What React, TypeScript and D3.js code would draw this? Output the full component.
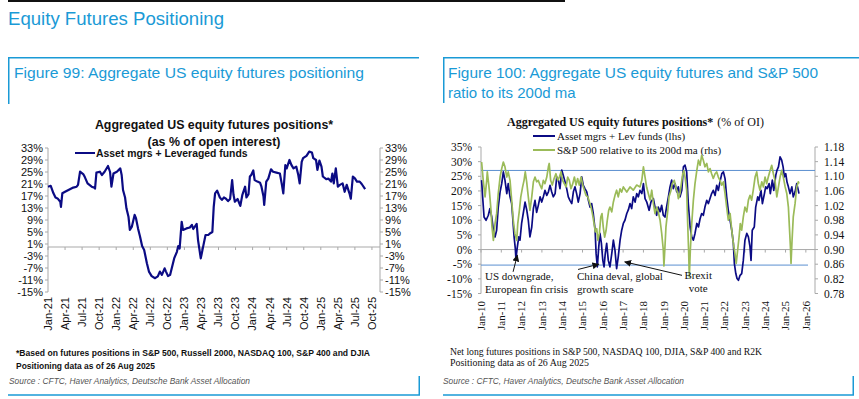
import React from "react";
import * as d3 from "d3";

// ---- data: Figure 99 (decimal year, % of open interest) ----
const aggPositions: [number, number][] = [
  [2021.0, 20.1], [2021.04, 20.4], [2021.08, 17.9], [2021.11, 16.5], [2021.14, 16.2], [2021.18, 15.1],
  [2021.19, 13.4], [2021.21, 17.9], [2021.25, 18.4], [2021.3, 19.0], [2021.37, 19.8], [2021.42, 20.1],
  [2021.44, 20.7], [2021.47, 25.1], [2021.52, 24.2], [2021.54, 23.3], [2021.58, 21.2], [2021.64, 20.1],
  [2021.68, 19.8], [2021.69, 19.5], [2021.71, 24.8], [2021.76, 25.1], [2021.79, 24.0], [2021.83, 25.1],
  [2021.88, 27.0], [2021.91, 25.0], [2021.93, 20.1], [2021.96, 24.5], [2022.01, 25.1], [2022.06, 26.2],
  [2022.08, 24.0], [2022.1, 19.0], [2022.13, 16.5], [2022.15, 12.9], [2022.18, 10.1], [2022.2, 5.7],
  [2022.23, 6.8], [2022.27, 10.7], [2022.29, 9.6], [2022.32, 6.2], [2022.35, 3.4], [2022.38, 0.3],
  [2022.41, -1.0], [2022.45, -5.4], [2022.48, -8.2], [2022.52, -9.7], [2022.57, -10.4], [2022.61, -9.8],
  [2022.64, -8.2], [2022.67, -9.3], [2022.71, -7.1], [2022.73, -8.2], [2022.76, -9.7], [2022.79, -9.3],
  [2022.82, -6.6], [2022.85, -3.8], [2022.89, -1.6], [2022.91, 0.3], [2022.93, -0.5], [2022.96, 8.4],
  [2022.98, 5.7], [2023.03, 6.2], [2023.08, 6.5], [2023.11, 7.4], [2023.13, 6.0], [2023.18, 7.7],
  [2023.2, 2.3], [2023.24, -3.8], [2023.28, 0.7], [2023.31, 4.0], [2023.35, 4.0], [2023.38, 4.6],
  [2023.41, 5.0], [2023.43, 13.4], [2023.45, 17.9], [2023.48, 18.8], [2023.52, 16.5], [2023.55, 15.7],
  [2023.58, 16.5], [2023.61, 16.1], [2023.64, 15.3], [2023.67, 16.0], [2023.7, 22.3], [2023.72, 17.4],
  [2023.74, 15.1], [2023.78, 16.0], [2023.82, 13.7], [2023.85, 17.4], [2023.89, 20.1], [2023.91, 16.5],
  [2023.94, 17.6], [2023.96, 23.5], [2023.98, 24.0], [2024.01, 25.5], [2024.03, 22.3], [2024.07, 21.8],
  [2024.11, 21.4], [2024.13, 20.1], [2024.16, 16.8], [2024.17, 14.0], [2024.2, 21.8], [2024.23, 22.8],
  [2024.27, 25.9], [2024.3, 25.1], [2024.35, 24.8], [2024.4, 24.5], [2024.43, 20.7], [2024.45, 17.9],
  [2024.48, 27.3], [2024.5, 26.2], [2024.54, 29.0], [2024.57, 27.3], [2024.6, 26.2], [2024.64, 26.8],
  [2024.67, 24.0], [2024.69, 21.2], [2024.72, 28.4], [2024.74, 29.6], [2024.79, 30.4], [2024.83, 31.8],
  [2024.87, 31.5], [2024.89, 29.6], [2024.93, 29.0], [2024.95, 25.7], [2024.98, 28.8], [2025.01, 26.8],
  [2025.03, 23.5], [2025.08, 22.6], [2025.11, 22.8], [2025.15, 21.8], [2025.17, 24.5], [2025.19, 21.2],
  [2025.22, 26.2], [2025.25, 20.1], [2025.28, 20.7], [2025.32, 21.2], [2025.35, 18.4], [2025.38, 20.7],
  [2025.42, 17.9], [2025.44, 16.1], [2025.47, 23.5], [2025.5, 22.9], [2025.53, 21.8], [2025.57, 21.8],
  [2025.6, 21.0], [2025.65, 19.3],
];
const fig99Ticks = [33, 29, 25, 21, 17, 13, 9, 5, 1, -3, -7, -11, -15];
const fig99Labels = [
  "Jan-21", "Apr-21", "Jul-21", "Oct-21", "Jan-22", "Apr-22", "Jul-22", "Oct-22", "Jan-23", "Apr-23",
  "Jul-23", "Oct-23", "Jan-24", "Apr-24", "Jul-24", "Oct-24", "Jan-25", "Apr-25", "Jul-25", "Oct-25",
];

// ---- data: Figure 100 ----
// asset mgrs + lev funds, % of OI (lhs)
const levPositions: [number, number][] = [
  [2010.03, 23.7], [2010.08, 18], [2010.15, 11.1], [2010.25, 10], [2010.36, 11.7], [2010.44, 14],
  [2010.53, 11.1], [2010.61, 6.6], [2010.69, 4.3], [2010.77, 6.6], [2010.85, 14.5], [2010.94, 19.7],
  [2011.02, 22.5], [2011.1, 26.5], [2011.18, 23.7], [2011.27, 19.1], [2011.34, 22.5], [2011.43, 18],
  [2011.51, 15.7], [2011.56, 11.1], [2011.63, 4.3], [2011.69, 0.3], [2011.72, -3.1], [2011.79, 0.9],
  [2011.86, 4.3], [2011.92, 3.2], [2012.0, 8.9], [2012.08, 12.3], [2012.17, 16.2], [2012.25, 13.6],
  [2012.33, 10], [2012.41, 4.3], [2012.5, 7.7], [2012.58, 14], [2012.66, 16.8], [2012.74, 12.7],
  [2012.82, 15], [2012.91, 18], [2012.99, 16.2], [2013.07, 18], [2013.15, 20.2], [2013.24, 18.5],
  [2013.32, 19.7], [2013.4, 21.9], [2013.48, 19.7], [2013.56, 18], [2013.65, 19.1], [2013.73, 24.8],
  [2013.81, 23.7], [2013.89, 20.8], [2013.98, 27.1], [2014.05, 25.4], [2014.14, 23.1], [2014.22, 20.8],
  [2014.3, 18], [2014.38, 16.8], [2014.47, 15.7], [2014.55, 19.7], [2014.63, 21.4], [2014.71, 19.1],
  [2014.79, 16.2], [2014.88, 19.1], [2014.96, 24.8], [2015.04, 21.9], [2015.12, 20.8], [2015.21, 19.7],
  [2015.29, 16.8], [2015.37, 14.5], [2015.45, 15.7], [2015.53, 12.3], [2015.62, 6.6], [2015.67, -1.4],
  [2015.73, -5.9], [2015.8, 0.9], [2015.86, 5.5], [2015.93, 2.1], [2016.0, -3.7], [2016.06, -5.9],
  [2016.12, -1.4], [2016.19, 2.1], [2016.27, -3.7], [2016.35, -5.9], [2016.44, -1.4], [2016.52, 3.2],
  [2016.6, -0.3], [2016.68, -6.5], [2016.76, -2.5], [2016.85, 3.2], [2016.93, 6.6], [2017.01, 8.9],
  [2017.09, 10], [2017.18, 12.3], [2017.26, 13.6], [2017.34, 15.7], [2017.42, 14], [2017.5, 18],
  [2017.59, 16.2], [2017.67, 19.1], [2017.75, 18], [2017.83, 20.2], [2017.92, 19.1], [2018.0, 22.5],
  [2018.08, 17.4], [2018.16, 16.3], [2018.28, 13.4], [2018.37, 16.2], [2018.49, 17.4], [2018.57, 14.5],
  [2018.65, 11.7], [2018.73, 14.5], [2018.82, 12.9], [2018.9, 15.1], [2018.98, 11.7], [2019.06, 11.1],
  [2019.14, 14.5], [2019.23, 18], [2019.31, 21.4], [2019.39, 23.7], [2019.47, 20.8], [2019.56, 22.5],
  [2019.64, 19.7], [2019.72, 21.4], [2019.8, 18], [2019.89, 20.2], [2019.97, 28.2], [2020.05, 28.8],
  [2020.13, 26.5], [2020.21, 15.7], [2020.3, 7.7], [2020.38, 4.3], [2020.46, 3.2], [2020.54, 5.5],
  [2020.63, 8.9], [2020.71, 7.7], [2020.79, 10.5], [2020.87, 12.3], [2020.95, 11.7], [2021.03, 14.5],
  [2021.12, 16.8], [2021.2, 15.7], [2021.28, 17.4], [2021.36, 19.1], [2021.44, 20.2], [2021.53, 18.5],
  [2021.61, 21.9], [2021.69, 20.2], [2021.77, 23.1], [2021.86, 25.9], [2021.94, 26.5], [2022.02, 24.2],
  [2022.1, 18], [2022.18, 13.4], [2022.27, 10], [2022.35, 6.6], [2022.43, 2.1], [2022.48, -4.8],
  [2022.55, -8.2], [2022.61, -9.9], [2022.68, -10.5], [2022.76, -8.8], [2022.84, -8.2], [2022.92, -3.7],
  [2023.0, 3.2], [2023.09, 5.5], [2023.17, 4.3], [2023.25, 0.9], [2023.3, -3.7], [2023.36, 6.6],
  [2023.46, 7.7], [2023.53, 14.5], [2023.63, 18], [2023.69, 16.8], [2023.79, 20.2], [2023.86, 15.7],
  [2023.96, 19.1], [2024.02, 21.4], [2024.09, 20.8], [2024.19, 22.5], [2024.25, 19.1], [2024.35, 23.7],
  [2024.42, 20.2], [2024.52, 25.4], [2024.58, 27.1], [2024.65, 28.2], [2024.73, 31.6], [2024.81, 30.5],
  [2024.88, 28.2], [2024.94, 24.8], [2025.01, 25.9], [2025.07, 23.1], [2025.14, 21.4], [2025.22, 19.1],
  [2025.31, 21.4], [2025.38, 18], [2025.47, 19.7], [2025.55, 22.5], [2025.63, 20.2], [2025.66, 19.1],
];
// S&P 500 relative to 200d ma (rhs)
const spxRatio: [number, number][] = [
  [2010.03, 1.139], [2010.11, 1.089], [2010.2, 1.044], [2010.28, 1.089], [2010.31, 1.112], [2010.41, 1.062],
  [2010.48, 1.016], [2010.54, 0.962], [2010.61, 0.925], [2010.69, 0.971], [2010.77, 0.998], [2010.85, 1.053],
  [2010.94, 1.098], [2011.02, 1.121], [2011.1, 1.139], [2011.18, 1.126], [2011.27, 1.098], [2011.34, 1.112],
  [2011.43, 1.089], [2011.51, 1.035], [2011.59, 0.98], [2011.67, 0.944], [2011.76, 0.925], [2011.81, 0.971],
  [2011.89, 1.007], [2011.96, 1.044], [2012.05, 1.071], [2012.12, 1.089], [2012.18, 1.112], [2012.25, 1.085],
  [2012.33, 1.044], [2012.41, 1.007], [2012.5, 1.044], [2012.58, 1.085], [2012.66, 1.098], [2012.74, 1.085],
  [2012.82, 1.089], [2012.91, 1.076], [2012.99, 1.066], [2013.07, 1.089], [2013.15, 1.08], [2013.24, 1.098],
  [2013.32, 1.126], [2013.36, 1.135], [2013.43, 1.089], [2013.51, 1.076], [2013.6, 1.094], [2013.69, 1.107],
  [2013.78, 1.089], [2013.86, 1.098], [2013.94, 1.112], [2014.02, 1.089], [2014.1, 1.08], [2014.19, 1.071],
  [2014.27, 1.098], [2014.35, 1.089], [2014.43, 1.066], [2014.52, 1.08], [2014.6, 1.098], [2014.68, 1.076],
  [2014.76, 1.094], [2014.84, 1.076], [2014.93, 1.098], [2015.01, 1.076], [2015.09, 1.062], [2015.17, 1.048],
  [2015.26, 1.044], [2015.34, 1.03], [2015.42, 1.016], [2015.5, 0.994], [2015.57, 0.971], [2015.63, 0.948],
  [2015.7, 0.957], [2015.76, 0.925], [2015.83, 0.944], [2015.9, 0.989], [2015.96, 0.998], [2016.02, 0.962],
  [2016.09, 0.934], [2016.16, 0.952], [2016.22, 0.98], [2016.29, 1.007], [2016.35, 1.016], [2016.44, 1.003],
  [2016.52, 1.03], [2016.6, 1.048], [2016.68, 1.062], [2016.76, 1.044], [2016.85, 1.066], [2016.93, 1.057],
  [2017.01, 1.071], [2017.18, 1.057], [2017.34, 1.071], [2017.5, 1.062], [2017.67, 1.076], [2017.83, 1.071],
  [2017.92, 1.089], [2018.0, 1.126], [2018.08, 1.098], [2018.16, 1.07], [2018.24, 1.053], [2018.33, 1.035],
  [2018.41, 1.062], [2018.49, 1.026], [2018.57, 0.998], [2018.65, 1.016], [2018.73, 1.003], [2018.82, 0.98],
  [2018.9, 0.944], [2018.98, 0.898], [2019.01, 0.855], [2019.06, 0.907], [2019.11, 0.962], [2019.2, 1.007],
  [2019.26, 1.044], [2019.36, 1.062], [2019.42, 1.08], [2019.52, 1.089], [2019.59, 1.071], [2019.67, 1.057],
  [2019.72, 1.039], [2019.8, 1.053], [2019.89, 1.089], [2019.94, 1.107], [2019.99, 1.116], [2020.05, 1.098],
  [2020.13, 1.062], [2020.18, 0.971], [2020.23, 0.889], [2020.26, 0.825], [2020.31, 0.898], [2020.38, 0.971],
  [2020.46, 1.035], [2020.54, 1.08], [2020.63, 1.116], [2020.71, 1.144], [2020.79, 1.13], [2020.87, 1.157],
  [2020.95, 1.144], [2021.03, 1.126], [2021.12, 1.135], [2021.2, 1.112], [2021.28, 1.121], [2021.36, 1.107],
  [2021.44, 1.094], [2021.53, 1.107], [2021.61, 1.112], [2021.69, 1.098], [2021.77, 1.089], [2021.86, 1.076],
  [2021.94, 1.085], [2022.02, 1.053], [2022.1, 1.016], [2022.18, 0.98], [2022.27, 0.998], [2022.35, 0.953],
  [2022.43, 0.916], [2022.51, 0.889], [2022.57, 0.862], [2022.64, 0.898], [2022.71, 0.934], [2022.77, 0.971],
  [2022.84, 0.953], [2022.92, 0.989], [2023.0, 1.016], [2023.09, 1.003], [2023.17, 1.035], [2023.25, 1.048],
  [2023.33, 1.035], [2023.41, 1.062], [2023.5, 1.098], [2023.58, 1.112], [2023.66, 1.08], [2023.74, 1.062],
  [2023.83, 1.085], [2023.91, 1.071], [2023.99, 1.098], [2024.07, 1.08], [2024.15, 1.098], [2024.24, 1.116],
  [2024.32, 1.13], [2024.4, 1.107], [2024.48, 1.089], [2024.57, 1.044], [2024.65, 1.071], [2024.73, 1.098],
  [2024.81, 1.116], [2024.89, 1.098], [2024.98, 1.071], [2025.06, 1.053], [2025.14, 1.016], [2025.19, 0.962],
  [2025.24, 0.907], [2025.27, 0.862], [2025.32, 0.925], [2025.38, 0.989], [2025.47, 1.026], [2025.55, 1.071],
  [2025.63, 1.085], [2025.66, 1.08],
];
const fig100Lhs = [35, 30, 25, 20, 15, 10, 5, 0, -5, -10, -15];
const fig100Rhs = [1.18, 1.14, 1.1, 1.06, 1.02, 0.98, 0.94, 0.9, 0.86, 0.82, 0.78];
const fig100Years = [2010, 2011, 2012, 2013, 2014, 2015, 2016, 2017, 2018, 2019, 2020, 2021, 2022, 2023, 2024, 2025, 2026];
const bandLines = [27, -5.3];

const BLUE = "#1a9ad6";
const NAVY = "#0b0b84";
const GREEN = "#9bbb59";
const AXIS = "#a9a9a9";
const SANS = "'Liberation Sans', Arial, sans-serif";
const SERIF = "'Liberation Serif', 'Times New Roman', serif";

const monthIdx: Record<string, number> = { Jan: 0, Apr: 3, Jul: 6, Oct: 9 };
const labelToYear = (s: string) => 2000 + +s.slice(4) + monthIdx[s.slice(0, 3)] / 12;

function Fig99() {
  const x = d3.scaleLinear().domain([2021, 2025.868]).range([48, 380]);
  const y = d3.scaleLinear().domain([-15, 33]).range([292, 148]);
  const line = d3.line<[number, number]>().x(d => x(d[0])).y(d => y(d[1]));
  const y0 = y(0);
  return (
    <g fontFamily={SANS}>
      <text x={214} y={129} textAnchor="middle" fontSize={12.4} fontWeight="bold" fill="#111">
        Aggregated US equity futures positions*
      </text>
      <text x={214} y={146} textAnchor="middle" fontSize={12.4} fontWeight="bold" fill="#111">
        (as % of open interest)
      </text>
      <line x1={75} x2={95} y1={153} y2={153} stroke={NAVY} strokeWidth={2} />
      <text x={96} y={153} dy="0.35em" fontSize={10.4} fontWeight="bold" fill="#111">
        Asset mgrs + Leveraged funds
      </text>

      <line x1={48} x2={48} y1={148} y2={292} stroke={AXIS} />
      <line x1={380} x2={380} y1={148} y2={292} stroke={AXIS} />
      <line x1={48} x2={380} y1={y0} y2={y0} stroke={AXIS} />
      {fig99Ticks.map(t => (
        <g key={t}>
          <line x1={45} x2={48} y1={y(t)} y2={y(t)} stroke={AXIS} />
          <line x1={380} x2={383} y1={y(t)} y2={y(t)} stroke={AXIS} />
          <text x={43} y={y(t)} dy="0.35em" textAnchor="end" fontSize={11} fill="#111">{t}%</text>
          <text x={385} y={y(t)} dy="0.35em" fontSize={11} fill="#111">{t}%</text>
        </g>
      ))}
      {fig99Labels.map(l => {
        const xx = x(labelToYear(l));
        return (
          <g key={l}>
            <line x1={xx} x2={xx} y1={y0} y2={y0 + 3} stroke={AXIS} />
            <text transform={`translate(${xx},297) rotate(-90)`} textAnchor="end" dy="0.35em" fontSize={11} fill="#111">{l}</text>
          </g>
        );
      })}
      <path d={line(aggPositions) ?? ""} fill="none" stroke={NAVY} strokeWidth={2.2} strokeLinejoin="round" />

      <text x={16} y={356} fontSize={9} fontWeight="bold" fill="#111" textLength={354} lengthAdjust="spacingAndGlyphs">
        *Based on futures positions in S&amp;P 500, Russell 2000, NASDAQ 100, S&amp;P 400 and DJIA
      </text>
      <text x={16} y={369} fontSize={9} fontWeight="bold" fill="#111" textLength={139} lengthAdjust="spacingAndGlyphs">
        Positioning data as of 26 Aug 2025
      </text>
    </g>
  );
}

type Note = { lines: string[]; tx: number; ty: number; anchor?: "start" | "middle"; arrow: [number, number, number, number] };
const notes: Note[] = [
  { lines: ["US downgrade,", "European fin crisis"], tx: 2010.2, ty: -10.5, arrow: [2011.58, -7.6, 2011.79, -1.9] },
  { lines: ["China deval, global", "growth scare"], tx: 2014.73, ty: -10.5, arrow: [2014.78, -6.8, 2015.8, -5.0] },
  { lines: ["Brexit", "vote"], tx: 2020.7, ty: -10.1, anchor: "middle", arrow: [2019.9, -8.8, 2017.08, -4.2] },
];

function Fig100() {
  const x = d3.scaleLinear().domain([2010, 2026.5]).range([481, 816]);
  const yL = d3.scaleLinear().domain([-15, 35]).range([293.5, 147]);
  const yR = d3.scaleLinear().domain([0.78, 1.18]).range([293.5, 147]);
  const lineL = d3.line<[number, number]>().x(d => x(d[0])).y(d => yL(d[1]));
  const lineR = d3.line<[number, number]>().x(d => x(d[0])).y(d => yR(d[1]));
  const y0 = yL(0);
  return (
    <g fontFamily={SERIF}>
      <text x={507} y={126} fontSize={12} fill="#111">
        <tspan fontWeight="bold">Aggregated US equity futures positions*</tspan>
        <tspan dx={4}>(% of OI)</tspan>
      </text>
      <line x1={533} x2={555} y1={136} y2={136} stroke={NAVY} strokeWidth={2} />
      <text x={557} y={136} dy="0.35em" fontSize={11} fill="#111">Asset mgrs + Lev funds (lhs)</text>
      <line x1={533} x2={555} y1={150} y2={150} stroke={GREEN} strokeWidth={2} />
      <text x={557} y={150} dy="0.35em" fontSize={11} fill="#111">S&amp;P 500 relative to its 200d ma (rhs)</text>

      <line x1={481} x2={481} y1={147} y2={293.5} stroke={AXIS} />
      <line x1={815} x2={815} y1={147} y2={293.5} stroke={AXIS} />
      <line x1={481} x2={815} y1={y0} y2={y0} stroke={AXIS} />
      {fig100Lhs.map(t => (
        <g key={t}>
          <line x1={478} x2={481} y1={yL(t)} y2={yL(t)} stroke={AXIS} />
          <text x={472} y={yL(t)} dy="0.35em" textAnchor="end" fontSize={11.5} fill="#111">{t}%</text>
        </g>
      ))}
      {fig100Rhs.map(t => (
        <g key={t}>
          <line x1={815} x2={818} y1={yR(t)} y2={yR(t)} stroke={AXIS} />
          <text x={824} y={yR(t)} dy="0.35em" fontSize={11.5} fill="#111">{t.toFixed(2)}</text>
        </g>
      ))}
      {fig100Years.map(yr => (
        <g key={yr}>
          <line x1={x(yr)} x2={x(yr)} y1={y0} y2={y0 + 3} stroke={AXIS} />
          <text transform={`translate(${x(yr)},301) rotate(-90)`} textAnchor="end" dy="0.35em" fontSize={11} fill="#111">
            {`Jan-${String(yr).slice(2)}`}
          </text>
        </g>
      ))}
      {bandLines.map(b => (
        <line key={b} x1={481} x2={b > 0 ? 815 : 808} y1={yL(b)} y2={yL(b)} stroke="#5b8fd0" strokeWidth={1} />
      ))}
      <path d={lineL(levPositions) ?? ""} fill="none" stroke={NAVY} strokeWidth={1.7} strokeLinejoin="round" />
      <path d={lineR(spxRatio) ?? ""} fill="none" stroke={GREEN} strokeWidth={1.7} strokeLinejoin="round" />

      <defs>
        <marker id="arr" viewBox="0 0 10 10" refX={9} refY={5} markerWidth={7} markerHeight={7} orient="auto">
          <path d="M0,0 L10,5 L0,10 z" fill="#111" />
        </marker>
      </defs>
      {notes.map((n, i) => (
        <g key={i}>
          <line x1={x(n.arrow[0])} y1={yL(n.arrow[1])} x2={x(n.arrow[2])} y2={yL(n.arrow[3])} stroke="#111" strokeWidth={1} markerEnd="url(#arr)" />
          {n.lines.map((l, j) => (
            <text key={j} x={x(n.tx)} y={yL(n.ty) + j * 13} textAnchor={n.anchor ?? "start"} fontSize={11} fill="#111">{l}</text>
          ))}
        </g>
      ))}

      <text x={450} y={355} fontSize={9.5} fill="#111" textLength={312} lengthAdjust="spacingAndGlyphs">
        Net long futures positions in S&amp;P 500, NASDAQ 100, DJIA, S&amp;P 400 and R2K
      </text>
      <text x={450} y={366} fontSize={9.5} fill="#111" textLength={139} lengthAdjust="spacingAndGlyphs">
        Positioning data as of 26 Aug 2025
      </text>
    </g>
  );
}

export default function App() {
  return (
    <div style={{ position: "absolute", left: 0, top: 0 }}>
      <svg width={859} height={399} style={{ display: "block", background: "#fff" }}>
        <line x1={8} x2={565} y1={1} y2={1} stroke="#111" strokeWidth={2} />
        <text x={8} y={25} fontFamily={SANS} fontSize={18.6} fill={BLUE}>Equity Futures Positioning</text>

        {/* panel frames */}
        <path d="M8.75,104 V57.75 H419" fill="none" stroke={BLUE} strokeWidth={1.5} />
        <path d="M8,395 H419.25 V376" fill="none" stroke={BLUE} strokeWidth={1.5} />
        <path d="M443.75,103 V57.75 H859" fill="none" stroke={BLUE} strokeWidth={1.5} />
        <path d="M443,395 H853.25 V376" fill="none" stroke={BLUE} strokeWidth={1.5} />

        <text x={14} y={78} fontFamily={SANS} fontSize={15} fill={BLUE} textLength={350} lengthAdjust="spacingAndGlyphs">
          Figure 99: Aggregate US equity futures positioning
        </text>
        <text x={448} y={78} fontFamily={SANS} fontSize={15} fill={BLUE} textLength={370} lengthAdjust="spacingAndGlyphs">
          Figure 100: Aggregate US equity futures and S&amp;P 500
        </text>
        <text x={448} y={98} fontFamily={SANS} fontSize={15} fill={BLUE}>ratio to its 200d ma</text>

        <Fig99 />
        <Fig100 />

        <text x={9} y={384} fontFamily={SANS} fontSize={8.5} fontStyle="italic" fill="#555" textLength={241} lengthAdjust="spacingAndGlyphs">
          Source : CFTC, Haver Analytics, Deutsche Bank Asset Allocation
        </text>
        <text x={443} y={384} fontFamily={SANS} fontSize={8.5} fontStyle="italic" fill="#555" textLength={241} lengthAdjust="spacingAndGlyphs">
          Source : CFTC, Haver Analytics, Deutsche Bank Asset Allocation
        </text>
      </svg>
    </div>
  );
}
